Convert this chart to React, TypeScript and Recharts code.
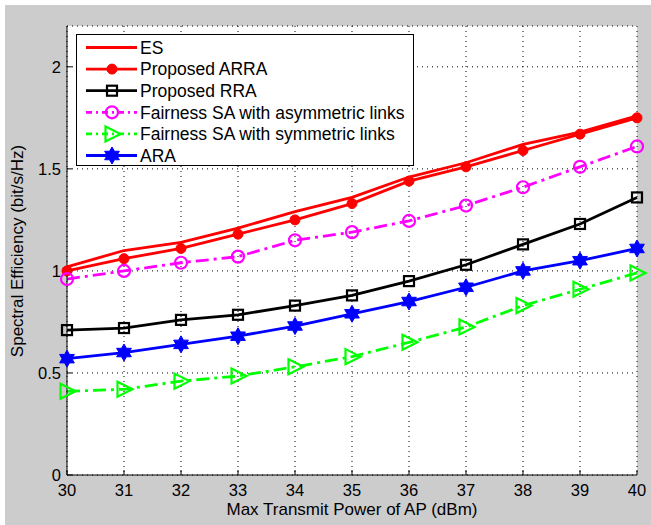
import { CartesianGrid, Line, LineChart, XAxis, YAxis } from "recharts"

const power = [30, 31, 32, 33, 34, 35, 36, 37, 38, 39, 40]
const es = [1.02, 1.1, 1.14, 1.21, 1.29, 1.36, 1.46, 1.53, 1.62, 1.68, 1.76]
const arra = [1.0, 1.06, 1.11, 1.18, 1.25, 1.33, 1.44, 1.51, 1.59, 1.67, 1.75]
const rra = [0.71, 0.72, 0.76, 0.785, 0.83, 0.88, 0.95, 1.03, 1.13, 1.23, 1.36]
const fairAsym = [0.96, 1.0, 1.04, 1.07, 1.15, 1.19, 1.245, 1.32, 1.41, 1.51, 1.61]
const fairSym = [0.41, 0.42, 0.46, 0.485, 0.53, 0.58, 0.65, 0.725, 0.83, 0.91, 0.99]
const ara = [0.57, 0.6, 0.64, 0.68, 0.73, 0.79, 0.85, 0.92, 1.0, 1.05, 1.11]
const yTicks = [0, 0.5, 1, 1.5, 2]

const data = power.map((p, i) => ({
    power: p,
    es: es[i],
    arra: arra[i],
    rra: rra[i],
    fairAsym: fairAsym[i],
    fairSym: fairSym[i],
    ara: ara[i],
}))

const FONT = "'Liberation Sans', Arial, sans-serif"
const DASHDOT = "13 5 3 5"

type MarkerKind = "none" | "dot" | "square" | "circle" | "triangle" | "hexagram"

const Marker = ({ kind, cx, cy, color }: { kind: MarkerKind, cx: number, cy: number, color: string }) => {
    switch (kind) {
        case "dot":
            return <circle cx={cx} cy={cy} r={5} fill={color} stroke={color} />
        case "square":
            return <rect x={cx - 5} y={cy - 5} width={10} height={10} fill="none" stroke={color} strokeWidth={2.2} />
        case "circle":
            return <circle cx={cx} cy={cy} r={6} fill="none" stroke={color} strokeWidth={2.2} />
        case "triangle":
            return (
                <polygon
                    points={`${cx - 6.5},${cy - 7.5} ${cx + 8.5},${cy} ${cx - 6.5},${cy + 7.5}`}
                    fill="none"
                    stroke={color}
                    strokeWidth={2.2}
                />
            )
        case "hexagram": {
            const pts: string[] = []
            for (let k = 0; k < 12; k++) {
                const a = -Math.PI / 2 + (k * Math.PI) / 6
                const r = k % 2 === 0 ? 8.5 : 4.9
                pts.push(`${cx + r * Math.cos(a)},${cy + r * Math.sin(a)}`)
            }
            return <polygon points={pts.join(" ")} fill={color} stroke={color} strokeWidth={1} />
        }
        default:
            return <g />
    }
}

interface SeriesDef {
    key: string,
    name: string,
    color: string,
    dash?: string,
    marker: MarkerKind
}

const series: SeriesDef[] = [
    { key: "es", name: "ES", color: "#ff0000", marker: "none" },
    { key: "arra", name: "Proposed ARRA", color: "#ff0000", marker: "dot" },
    { key: "rra", name: "Proposed RRA", color: "#000000", marker: "square" },
    { key: "fairAsym", name: "Fairness SA with asymmetric links", color: "#ff00ff", dash: DASHDOT, marker: "circle" },
    { key: "fairSym", name: "Fairness SA with symmetric links", color: "#00ff00", dash: DASHDOT, marker: "triangle" },
    { key: "ara", name: "ARA", color: "#0000ff", marker: "hexagram" },
]

// legend drawn as an overlay so it takes no room from the plot
const LegendBox = () => {
    const rowH = 21.6
    return (
        <svg width={339} height={133} style={{ display: "block" }}>
            <rect x={0.5} y={0.5} width={337} height={131} fill="#fff" stroke="#000" strokeWidth={1} />
            {series.map((s, i) => {
                const y = 13.5 + i * rowH
                return (
                    <g key={s.key}>
                        <line x1={10} x2={61} y1={y} y2={y} stroke={s.color} strokeWidth={2.8} strokeDasharray={s.dash ? "6 4 2 4" : undefined} />
                        <Marker kind={s.marker} cx={36} cy={y} color={s.color} />
                        <text x={64} y={y + 6.3} fontSize={17.5} fontFamily={FONT} fill="#000">{s.name}</text>
                    </g>
                )
            })}
        </svg>
    )
}

const App = () => {
    return (
        <div style={{ position: "absolute", left: 0, top: 0, width: 651, height: 525, background: "#fff" }}>
            <div style={{ position: "absolute", left: 5, top: 5, width: 646, height: 520, background: "#cccccc" }}>
                <LineChart
                    width={646}
                    height={520}
                    data={data}
                    margin={{ top: 21, right: 14, bottom: 5, left: 22 }}
                    style={{ fontFamily: FONT }}
                >
                    <CartesianGrid
                        stroke="#000"
                        strokeDasharray="1 4"
                        fill="#ffffff"
                        fillOpacity={1}
                    />
                    <XAxis
                        dataKey="power"
                        type="number"
                        domain={[30, 40]}
                        ticks={power}
                        height={45}
                        tickSize={-5}
                        tickMargin={14}
                        tick={{ fill: "#000", fontSize: 16.5 }}
                        axisLine={{ stroke: "#000", strokeWidth: 1 }}
                        tickLine={{ stroke: "#000" }}
                        interval={0}
                        label={{ value: "Max Transmit Power of AP (dBm)", position: "insideBottom", offset: 5, fill: "#000", fontSize: 17 }}
                    />
                    <XAxis
                        xAxisId="top"
                        orientation="top"
                        dataKey="power"
                        type="number"
                        domain={[30, 40]}
                        ticks={power}
                        height={0}
                        tickSize={-5}
                        tick={{ fill: "none" }}
                        axisLine={{ stroke: "#000", strokeWidth: 1 }}
                        tickLine={{ stroke: "#000" }}
                        interval={0}
                    />
                    <YAxis
                        type="number"
                        domain={[0, 2.2]}
                        ticks={yTicks}
                        width={40}
                        tickSize={-5}
                        tickMargin={11}
                        tick={{ fill: "#000", fontSize: 16.5 }}
                        axisLine={{ stroke: "#000", strokeWidth: 1 }}
                        tickLine={{ stroke: "#000" }}
                        interval={0}
                        label={{
                            content: () => (
                                <text
                                    x={14}
                                    y={246}
                                    transform="rotate(-90 14 246)"
                                    textAnchor="middle"
                                    dominantBaseline="middle"
                                    fontSize={17}
                                    fontFamily={FONT}
                                    fill="#000"
                                >
                                    Spectral Efficiency (bit/s/Hz)
                                </text>
                            ),
                        }}
                    />
                    <YAxis
                        yAxisId="right"
                        orientation="right"
                        type="number"
                        domain={[0, 2.2]}
                        ticks={yTicks}
                        width={0}
                        tickSize={-5}
                        tick={{ fill: "none" }}
                        axisLine={{ stroke: "#000", strokeWidth: 1 }}
                        tickLine={{ stroke: "#000" }}
                        interval={0}
                    />
                    {series.map((s) => (
                        <Line
                            key={s.key}
                            dataKey={s.key}
                            name={s.name}
                            type="linear"
                            stroke={s.color}
                            strokeWidth={2.8}
                            strokeDasharray={s.dash}
                            isAnimationActive={false}
                            activeDot={false}
                            dot={(p: any) => <Marker key={`${s.key}-${p.index}`} kind={s.marker} cx={p.cx} cy={p.cy} color={s.color} />}
                        />
                    ))}
                </LineChart>
                <div style={{ position: "absolute", left: 70.5, top: 29, pointerEvents: "none" }}>
                    <LegendBox />
                </div>
            </div>
        </div>
    )
}

export default App
